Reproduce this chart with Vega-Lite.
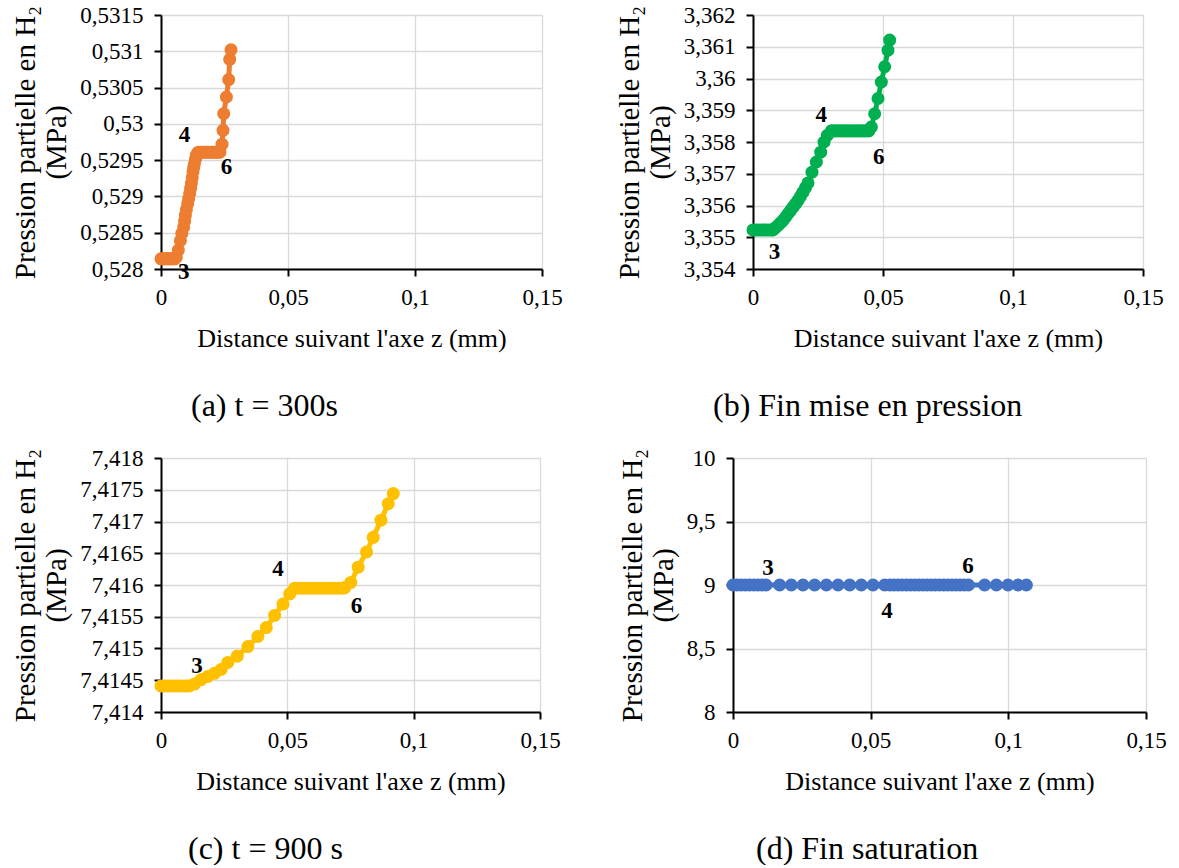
{
  "$schema": "https://vega.github.io/schema/vega-lite/v6.json",
  "padding": {"left": 11, "top": 4, "right": 5, "bottom": 0},
  "background": "white",
  "datasets": {
    "a": [
      {"x": 0, "y": 0.52814}, {"x": 0.0006, "y": 0.52814}, {"x": 0.0012, "y": 0.52814}, {"x": 0.0018, "y": 0.52814},
      {"x": 0.0024, "y": 0.52814}, {"x": 0.003, "y": 0.52814}, {"x": 0.0036, "y": 0.52814}, {"x": 0.0042, "y": 0.52814},
      {"x": 0.0048, "y": 0.52814}, {"x": 0.0054, "y": 0.52814}, {"x": 0.006, "y": 0.52816}, {"x": 0.0068, "y": 0.52826},
      {"x": 0.00764, "y": 0.52839}, {"x": 0.0082, "y": 0.52849}, {"x": 0.00894, "y": 0.52858}, {"x": 0.0093, "y": 0.52866},
      {"x": 0.0096, "y": 0.52874}, {"x": 0.01, "y": 0.52882}, {"x": 0.01051, "y": 0.5289}, {"x": 0.0109, "y": 0.52897},
      {"x": 0.0113, "y": 0.52904}, {"x": 0.01165, "y": 0.52911}, {"x": 0.01197, "y": 0.52918}, {"x": 0.0123, "y": 0.52926},
      {"x": 0.0126, "y": 0.52934}, {"x": 0.0129, "y": 0.5294}, {"x": 0.01315, "y": 0.52945}, {"x": 0.01355, "y": 0.52951},
      {"x": 0.01394, "y": 0.52957}, {"x": 0.0144, "y": 0.5296}, {"x": 0.01484, "y": 0.52961}, {"x": 0.0155, "y": 0.52961},
      {"x": 0.0162, "y": 0.52961}, {"x": 0.0169, "y": 0.52961}, {"x": 0.0176, "y": 0.52961}, {"x": 0.0183, "y": 0.52961},
      {"x": 0.019, "y": 0.52961}, {"x": 0.0197, "y": 0.52961}, {"x": 0.0204, "y": 0.52961}, {"x": 0.0211, "y": 0.52961},
      {"x": 0.0218, "y": 0.52961}, {"x": 0.0225, "y": 0.52961}, {"x": 0.0232, "y": 0.52961}, {"x": 0.02402, "y": 0.52972},
      {"x": 0.02441, "y": 0.52991}, {"x": 0.02469, "y": 0.53014}, {"x": 0.02575, "y": 0.53037}, {"x": 0.02665, "y": 0.53061},
      {"x": 0.02705, "y": 0.53089}, {"x": 0.02756, "y": 0.53102}
    ],
    "b": [
      {"x": 0, "y": 3.35523}, {"x": 0.001, "y": 3.35523}, {"x": 0.002, "y": 3.35523}, {"x": 0.003, "y": 3.35523},
      {"x": 0.004, "y": 3.35523}, {"x": 0.005, "y": 3.35523}, {"x": 0.006, "y": 3.35523}, {"x": 0.007, "y": 3.35523},
      {"x": 0.00769, "y": 3.35523}, {"x": 0.00865, "y": 3.3553}, {"x": 0.00962, "y": 3.35537}, {"x": 0.01058, "y": 3.35545},
      {"x": 0.01154, "y": 3.35553}, {"x": 0.0125, "y": 3.35563}, {"x": 0.01346, "y": 3.35574}, {"x": 0.01442, "y": 3.35584},
      {"x": 0.01538, "y": 3.35595}, {"x": 0.01635, "y": 3.35605}, {"x": 0.01731, "y": 3.35616}, {"x": 0.01827, "y": 3.35629},
      {"x": 0.01923, "y": 3.35642}, {"x": 0.02019, "y": 3.35656}, {"x": 0.02115, "y": 3.35671}, {"x": 0.02269, "y": 3.35705},
      {"x": 0.02436, "y": 3.35737}, {"x": 0.02603, "y": 3.35768}, {"x": 0.02731, "y": 3.358}, {"x": 0.02859, "y": 3.35821},
      {"x": 0.03013, "y": 3.35835}, {"x": 0.0313, "y": 3.35835}, {"x": 0.0325, "y": 3.35835}, {"x": 0.0337, "y": 3.35835},
      {"x": 0.0349, "y": 3.35835}, {"x": 0.0361, "y": 3.35835}, {"x": 0.0373, "y": 3.35835}, {"x": 0.0385, "y": 3.35835},
      {"x": 0.0397, "y": 3.35835}, {"x": 0.0409, "y": 3.35835}, {"x": 0.0421, "y": 3.35835}, {"x": 0.0433, "y": 3.35835},
      {"x": 0.0445, "y": 3.35835}, {"x": 0.04551, "y": 3.35847}, {"x": 0.04679, "y": 3.35889}, {"x": 0.04808, "y": 3.35937},
      {"x": 0.04936, "y": 3.35989}, {"x": 0.05064, "y": 3.36037}, {"x": 0.05192, "y": 3.36089}, {"x": 0.05256, "y": 3.36121}
    ],
    "c": [
      {"x": 0, "y": 7.41441}, {"x": 0.0014, "y": 7.41441}, {"x": 0.0028, "y": 7.41441}, {"x": 0.0042, "y": 7.41441},
      {"x": 0.0056, "y": 7.41441}, {"x": 0.007, "y": 7.41441}, {"x": 0.0084, "y": 7.41441}, {"x": 0.0098, "y": 7.41441},
      {"x": 0.0112, "y": 7.41441}, {"x": 0.01323, "y": 7.41444}, {"x": 0.01587, "y": 7.41451}, {"x": 0.01852, "y": 7.41456},
      {"x": 0.02116, "y": 7.41461}, {"x": 0.02381, "y": 7.41467}, {"x": 0.02646, "y": 7.41478}, {"x": 0.03016, "y": 7.41488},
      {"x": 0.03439, "y": 7.41503}, {"x": 0.03836, "y": 7.41519}, {"x": 0.04167, "y": 7.41533}, {"x": 0.04497, "y": 7.41552},
      {"x": 0.04828, "y": 7.4157}, {"x": 0.05093, "y": 7.41586}, {"x": 0.05291, "y": 7.41595}, {"x": 0.0545, "y": 7.41595},
      {"x": 0.0561, "y": 7.41595}, {"x": 0.0577, "y": 7.41595}, {"x": 0.0593, "y": 7.41595}, {"x": 0.0609, "y": 7.41595},
      {"x": 0.0625, "y": 7.41595}, {"x": 0.0641, "y": 7.41595}, {"x": 0.0657, "y": 7.41595}, {"x": 0.0673, "y": 7.41595},
      {"x": 0.0689, "y": 7.41595}, {"x": 0.0705, "y": 7.41595}, {"x": 0.0721, "y": 7.41595}, {"x": 0.07275, "y": 7.41596},
      {"x": 0.07513, "y": 7.41604}, {"x": 0.07804, "y": 7.41628}, {"x": 0.08135, "y": 7.41652}, {"x": 0.08399, "y": 7.41675},
      {"x": 0.08704, "y": 7.41702}, {"x": 0.08995, "y": 7.41728}, {"x": 0.09193, "y": 7.41744}
    ],
    "d": [
      {"x": 0, "y": 9}, {"x": 0.0015, "y": 9}, {"x": 0.003, "y": 9}, {"x": 0.0045, "y": 9}, {"x": 0.006, "y": 9},
      {"x": 0.0075, "y": 9}, {"x": 0.009, "y": 9}, {"x": 0.0105, "y": 9}, {"x": 0.012, "y": 9}, {"x": 0.01695, "y": 9},
      {"x": 0.02119, "y": 9}, {"x": 0.02542, "y": 9}, {"x": 0.02966, "y": 9}, {"x": 0.0339, "y": 9}, {"x": 0.03814, "y": 9},
      {"x": 0.04237, "y": 9}, {"x": 0.04661, "y": 9}, {"x": 0.05085, "y": 9}, {"x": 0.05508, "y": 9}, {"x": 0.057, "y": 9},
      {"x": 0.0585, "y": 9}, {"x": 0.06, "y": 9}, {"x": 0.0615, "y": 9}, {"x": 0.063, "y": 9}, {"x": 0.0645, "y": 9},
      {"x": 0.066, "y": 9}, {"x": 0.0675, "y": 9}, {"x": 0.069, "y": 9}, {"x": 0.0705, "y": 9}, {"x": 0.072, "y": 9},
      {"x": 0.0735, "y": 9}, {"x": 0.075, "y": 9}, {"x": 0.0765, "y": 9}, {"x": 0.078, "y": 9}, {"x": 0.0795, "y": 9},
      {"x": 0.081, "y": 9}, {"x": 0.0825, "y": 9}, {"x": 0.084, "y": 9}, {"x": 0.0855, "y": 9}, {"x": 0.0914, "y": 9},
      {"x": 0.09564, "y": 9}, {"x": 0.09988, "y": 9}, {"x": 0.10351, "y": 9}, {"x": 0.10654, "y": 9}
    ],
    "la": [{"x": 0.00921, "y": 0.529842, "t": "4"}, {"x": 0.02575, "y": 0.529404, "t": "6"}, {"x": 0.00894, "y": 0.527954, "t": "3"}],
    "lb": [{"x": 0.02627, "y": 3.35884, "t": "4"}, {"x": 0.04838, "y": 3.35752, "t": "6"}, {"x": 0.00831, "y": 3.35452, "t": "3"}],
    "lc": [{"x": 0.04631, "y": 7.41625, "t": "4"}, {"x": 0.07738, "y": 7.41567, "t": "6"}, {"x": 0.01429, "y": 7.41473, "t": "3"}],
    "ld": [{"x": 0.01271, "y": 9.1377, "t": "3"}, {"x": 0.08533, "y": 9.1503, "t": "6"}, {"x": 0.05592, "y": 8.7943, "t": "4"}]
  },
  "vconcat": [
    {
      "hconcat": [
        {
          "width": 381, "height": 254,
          "title": {"text": "(a) t = 300s", "orient": "bottom", "anchor": "start", "frame": "group", "dx": 30, "offset": 65, "baseline": "alphabetic", "fontSize": 32, "font": "Liberation Serif", "fontWeight": "normal", "color": "black"},
          "layer": [
            {"data": {"name": "a"}, "mark": {"type": "line", "color": "#ED7D31", "strokeWidth": 5},
             "encoding": {
               "x": {"field": "x", "type": "quantitative", "scale": {"domain": [0, 0.15], "nice": false, "zero": false}, "axis": {"values": [0, 0.05, 0.1, 0.15], "labelExpr": "replace('' + datum.value, '.', ',')"}, "title": "Distance suivant l'axe z (mm)"},
               "y": {"field": "y", "type": "quantitative", "scale": {"domain": [0.528, 0.5315], "nice": false, "zero": false}, "axis": {"values": [0.528, 0.5285, 0.529, 0.5295, 0.53, 0.5305, 0.531, 0.5315], "labelExpr": "replace('' + datum.value, '.', ',')"}, "title": ["Pression partielle en H₂", "(MPa)"]}
             }},
            {"data": {"name": "a"}, "mark": {"type": "circle", "color": "#ED7D31", "size": 170, "opacity": 1},
             "encoding": {"x": {"field": "x", "type": "quantitative"}, "y": {"field": "y", "type": "quantitative"}}},
            {"data": {"name": "la"}, "mark": {"type": "text", "font": "Liberation Serif", "fontSize": 23, "fontWeight": "bold", "color": "black", "baseline": "middle"},
             "encoding": {"x": {"field": "x", "type": "quantitative"}, "y": {"field": "y", "type": "quantitative"}, "text": {"field": "t"}}}
          ]
        },
        {
          "width": 390, "height": 254,
          "title": {"text": "(b) Fin mise en pression", "orient": "bottom", "anchor": "start", "frame": "group", "dx": -40, "offset": 65, "baseline": "alphabetic", "fontSize": 32, "font": "Liberation Serif", "fontWeight": "normal", "color": "black"},
          "layer": [
            {"data": {"name": "b"}, "mark": {"type": "line", "color": "#00B050", "strokeWidth": 5},
             "encoding": {
               "x": {"field": "x", "type": "quantitative", "scale": {"domain": [0, 0.15], "nice": false, "zero": false}, "axis": {"values": [0, 0.05, 0.1, 0.15], "labelExpr": "replace('' + datum.value, '.', ',')"}, "title": "Distance suivant l'axe z (mm)"},
               "y": {"field": "y", "type": "quantitative", "scale": {"domain": [3.354, 3.362], "nice": false, "zero": false}, "axis": {"values": [3.354, 3.355, 3.356, 3.357, 3.358, 3.359, 3.36, 3.361, 3.362], "labelExpr": "replace('' + datum.value, '.', ',')"}, "title": ["Pression partielle en H₂", "(MPa)"]}
             }},
            {"data": {"name": "b"}, "mark": {"type": "circle", "color": "#00B050", "size": 170, "opacity": 1},
             "encoding": {"x": {"field": "x", "type": "quantitative"}, "y": {"field": "y", "type": "quantitative"}}},
            {"data": {"name": "lb"}, "mark": {"type": "text", "font": "Liberation Serif", "fontSize": 23, "fontWeight": "bold", "color": "black", "baseline": "middle"},
             "encoding": {"x": {"field": "x", "type": "quantitative"}, "y": {"field": "y", "type": "quantitative"}, "text": {"field": "t"}}}
          ]
        }
      ],
      "spacing": 211,
      "bounds": "flush"
    },
    {
      "hconcat": [
        {
          "width": 379, "height": 254,
          "title": {"text": "(c) t = 900 s", "orient": "bottom", "anchor": "start", "frame": "group", "dx": 27, "offset": 65, "baseline": "alphabetic", "fontSize": 32, "font": "Liberation Serif", "fontWeight": "normal", "color": "black"},
          "layer": [
            {"data": {"name": "c"}, "mark": {"type": "line", "color": "#FFC000", "strokeWidth": 5},
             "encoding": {
               "x": {"field": "x", "type": "quantitative", "scale": {"domain": [0, 0.15], "nice": false, "zero": false}, "axis": {"values": [0, 0.05, 0.1, 0.15], "labelExpr": "replace('' + datum.value, '.', ',')"}, "title": "Distance suivant l'axe z (mm)"},
               "y": {"field": "y", "type": "quantitative", "scale": {"domain": [7.414, 7.418], "nice": false, "zero": false}, "axis": {"values": [7.414, 7.4145, 7.415, 7.4155, 7.416, 7.4165, 7.417, 7.4175, 7.418], "labelExpr": "replace('' + datum.value, '.', ',')"}, "title": ["Pression partielle en H₂", "(MPa)"]}
             }},
            {"data": {"name": "c"}, "mark": {"type": "circle", "color": "#FFC000", "size": 170, "opacity": 1},
             "encoding": {"x": {"field": "x", "type": "quantitative"}, "y": {"field": "y", "type": "quantitative"}}},
            {"data": {"name": "lc"}, "mark": {"type": "text", "font": "Liberation Serif", "fontSize": 23, "fontWeight": "bold", "color": "black", "baseline": "middle"},
             "encoding": {"x": {"field": "x", "type": "quantitative"}, "y": {"field": "y", "type": "quantitative"}, "text": {"field": "t"}}}
          ]
        },
        {
          "width": 413, "height": 254,
          "title": {"text": "(d) Fin saturation", "orient": "bottom", "anchor": "start", "frame": "group", "dx": 23, "offset": 65, "baseline": "alphabetic", "fontSize": 32, "font": "Liberation Serif", "fontWeight": "normal", "color": "black"},
          "layer": [
            {"data": {"name": "d"}, "mark": {"type": "line", "color": "#4472C4", "strokeWidth": 5},
             "encoding": {
               "x": {"field": "x", "type": "quantitative", "scale": {"domain": [0, 0.15], "nice": false, "zero": false}, "axis": {"values": [0, 0.05, 0.1, 0.15], "labelExpr": "replace('' + datum.value, '.', ',')"}, "title": "Distance suivant l'axe z (mm)"},
               "y": {"field": "y", "type": "quantitative", "scale": {"domain": [8, 10], "nice": false, "zero": false}, "axis": {"values": [8, 8.5, 9, 9.5, 10], "labelExpr": "replace('' + datum.value, '.', ',')"}, "title": ["Pression partielle en H₂", "(MPa)"]}
             }},
            {"data": {"name": "d"}, "mark": {"type": "circle", "color": "#4472C4", "size": 170, "opacity": 1},
             "encoding": {"x": {"field": "x", "type": "quantitative"}, "y": {"field": "y", "type": "quantitative"}}},
            {"data": {"name": "ld"}, "mark": {"type": "text", "font": "Liberation Serif", "fontSize": 23, "fontWeight": "bold", "color": "black", "baseline": "middle"},
             "encoding": {"x": {"field": "x", "type": "quantitative"}, "y": {"field": "y", "type": "quantitative"}, "text": {"field": "t"}}}
          ]
        }
      ],
      "spacing": 193,
      "bounds": "flush"
    }
  ],
  "spacing": 25,
  "config": {
    "view": {"stroke": null},
    "font": "Liberation Serif",
    "axis": {
      "domainColor": "black", "domainWidth": 2, "tickColor": "black", "tickWidth": 2, "tickSize": 7, "tickCount": 30,
      "gridColor": "#d9d9d9", "gridWidth": 1.3, "grid": true,
      "labelFont": "Liberation Serif", "labelFontSize": 23, "labelColor": "black",
      "titleFont": "Liberation Serif", "titleFontWeight": "normal", "titleColor": "black",
      "labelFlush": false, "labelOverlap": false
    },
    "axisX": {"titleFontSize": 26, "labelPadding": 10, "titlePadding": 16},
    "axisY": {"titleFontSize": 29, "labelPadding": 11, "titlePadding": 8, "titleLineHeight": 31}
  }
}
